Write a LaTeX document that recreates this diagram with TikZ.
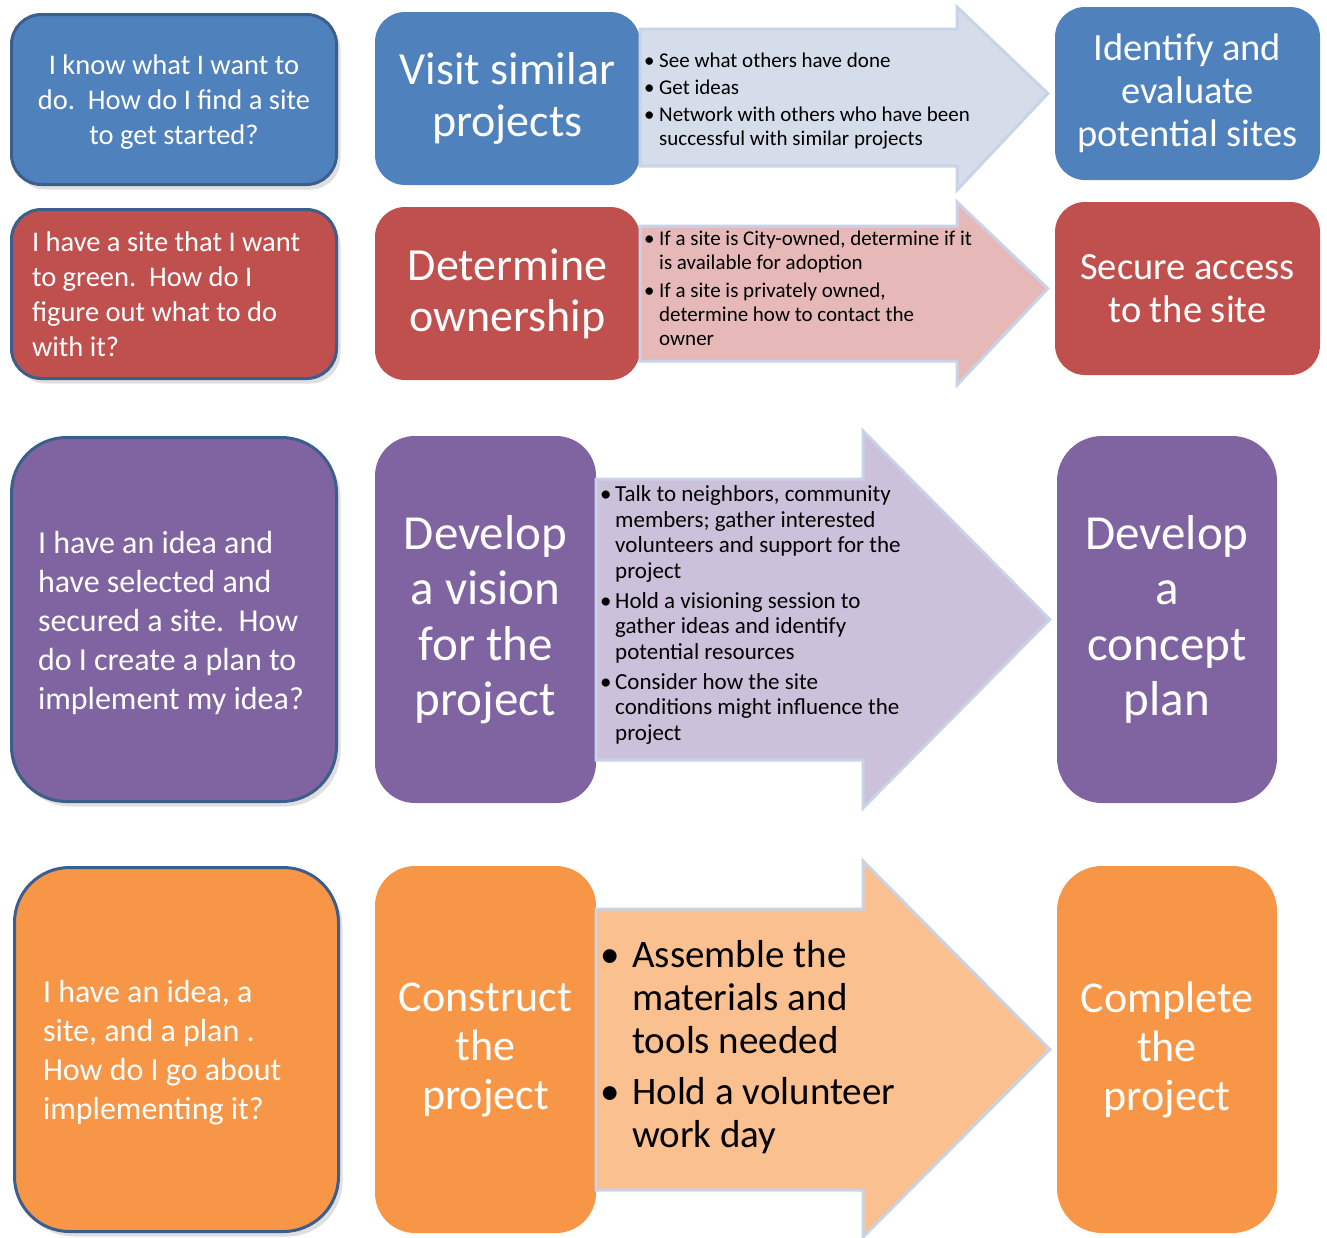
\documentclass[tikz,border=0pt]{standalone}
\usepackage{fontspec}
\setmainfont{Carlito}
\usetikzlibrary{shadows}

\definecolor{accblue}{HTML}{4F81BD}
\definecolor{accred}{HTML}{C0504D}
\definecolor{accpurple}{HTML}{8064A2}
\definecolor{accorange}{HTML}{F79646}
\definecolor{qborder}{HTML}{3B5E8C}
\definecolor{paleblue}{HTML}{D5DCEA}
\definecolor{palered}{HTML}{E6B9B8}
\definecolor{palepurple}{HTML}{CCC1DA}
\definecolor{paleorange}{HTML}{FAC090}
\definecolor{arrowedge}{HTML}{C9D3E7}

% bullet and hanging indent, width given as argument
\newcommand{\bul}[1]{\makebox[#1][l]{\textbullet}}
\newcommand{\ind}[1]{\hspace*{#1}}

\tikzset{
  qbox/.style={draw=qborder, line width=3pt, text=white, align=flush left,
    drop shadow={shadow xshift=4pt, shadow yshift=-5pt, opacity=0.25}},
  stepbox/.style={text=white, align=flush center, inner sep=0pt},
  bigarrow/.style={draw=arrowedge, line width=3pt, line join=miter},
  arrowtext/.style={anchor=west, align=flush left, inner sep=0pt, text=black}
}

\begin{document}
\begin{tikzpicture}[x=1pt, y=-1pt]
  \useasboundingbox (0,0) rectangle (1327,1237);

  % questions
  \node[qbox, fill=accblue, rounded corners=30pt, align=flush center, text width=301pt,
    inner xsep=12pt, minimum height=170pt, text depth=70pt, font=\fontsize{28.5}{35}\selectfont]
    (q1) at (174,99.5) {I know what I want to\\ do.\ \ How do I find a site\\ to get started?};
  \node[qbox, fill=accred, rounded corners=30pt, text width=284pt, inner xsep=20.5pt,
    minimum height=169pt, font=\fontsize{28.5}{35}\selectfont]
    (q2) at (174,294) {I have a site that I want\\ to green.\ \ How do I\\ figure out what to do\\ with it?};
  \node[qbox, fill=accpurple, rounded corners=55pt, text width=272pt, inner xsep=26.5pt,
    minimum height=364pt, text depth=155pt, font=\fontsize{32}{39}\selectfont]
    (q3) at (174,619.5) {I have an idea and\\ have selected and\\ secured a site.\ \ How\\ do I create a plan to\\ implement my idea?};
  \node[qbox, fill=accorange, rounded corners=55pt, text width=267pt, inner xsep=28.5pt,
    minimum height=364pt, text depth=116pt, font=\fontsize{32}{39}\selectfont]
    (q4) at (176.5,1049.5) {I have an idea, a\\ site, and a plan .\\ How do I go about\\ implementing it?};

  % steps
  \node[stepbox, fill=accblue, rounded corners=30pt, minimum width=265pt, minimum height=173pt,
    font=\fontsize{46}{52}\selectfont] (s1) at (507.5,98.5) {Visit similar\\ projects};
  \node[stepbox, fill=accred, rounded corners=30pt, minimum width=265pt, minimum height=173pt,
    font=\fontsize{46}{51}\selectfont] (s2) at (507.5,293.5) {Determine\\ ownership};
  \node[stepbox, fill=accpurple, rounded corners=40pt, minimum width=221pt, minimum height=367pt,
    font=\fontsize{49}{55.5}\selectfont] (s3) at (485.5,619.5) {Develop\\ a vision\\ for the\\ project};
  \node[stepbox, fill=accorange, rounded corners=40pt, minimum width=221pt, minimum height=367pt,
    font=\fontsize{44}{49}\selectfont] (s4) at (485.5,1049.5) {Construct\\ the\\ project};

  % results
  \node[stepbox, fill=accblue, rounded corners=30pt, minimum width=265pt, minimum height=173pt,
    font=\fontsize{38.5}{43}\selectfont] (r1) at (1187.5,93.5) {Identify and\\ evaluate\\ potential sites};
  \node[stepbox, fill=accred, rounded corners=30pt, minimum width=265pt, minimum height=173pt,
    font=\fontsize{38.5}{43}\selectfont] (r2) at (1187.5,288.5) {Secure access\\ to the site};
  \node[stepbox, fill=accpurple, rounded corners=45pt, minimum width=220pt, minimum height=367pt,
    font=\fontsize{49}{55.5}\selectfont] (r3) at (1167,619.5) {Develop\\ a\\ concept\\ plan};
  \node[stepbox, fill=accorange, rounded corners=45pt, minimum width=220pt, minimum height=367pt,
    font=\fontsize{44}{49}\selectfont] (r4) at (1167,1049.5) {Complete\\ the\\ project};

  % block arrows
  \draw[bigarrow, fill=paleblue] (s1.east |- 0,29) -- (957,29) -- (957,7) -- ([xshift=-7pt]r1.west)
    -- (957,190) -- (957,166) -- (s1.east |- 0,166) -- cycle;
  \draw[bigarrow, fill=palered] (s2.east |- 0,226) -- (957,226) -- (957,202) -- ([xshift=-7pt]r2.west)
    -- (957,385) -- (957,361) -- (s2.east |- 0,361) -- cycle;
  \draw[bigarrow, fill=palepurple] (s3.east |- 0,479) -- (863,479) -- (863,431) -- ([xshift=-7pt]r3.west)
    -- (863,808) -- (863,760) -- (s3.east |- 0,760) -- cycle;
  \draw[bigarrow, fill=paleorange] (s4.east |- 0,909) -- (863,909) -- (863,861) -- ([xshift=-7pt]r4.west)
    -- (863,1237) -- (863,1190) -- (s4.east |- 0,1190) -- cycle;

  \node[arrowtext, font=\fontsize{21}{24}\selectfont] (t1) at (644,101)
    {\bul{15pt}See what others have done\\[3pt] \bul{15pt}Get ideas\\[3pt]
     \bul{15pt}Network with others who have been\\ \ind{15pt}successful with similar projects};
  \node[arrowtext, font=\fontsize{21}{24}\selectfont] (t2) at (644,288)
    {\bul{15pt}If a site is City-owned, determine if it\\ \ind{15pt}is available for adoption\\[4pt]
     \bul{15pt}If a site is privately owned,\\ \ind{15pt}determine how to contact the\\ \ind{15pt}owner};
  \node[arrowtext, font=\fontsize{23}{25.5}\selectfont] (t3) at (600,615)
    {\bul{15pt}Talk to neighbors, community\\ \ind{15pt}members; gather interested\\
     \ind{15pt}volunteers and support for the\\ \ind{15pt}project\\[4.5pt]
     \bul{15pt}Hold a visioning session to\\ \ind{15pt}gather ideas and identify\\ \ind{15pt}potential resources\\[4.5pt]
     \bul{15pt}Consider how the site\\ \ind{15pt}conditions might influence the\\ \ind{15pt}project};
  \node[arrowtext, font=\fontsize{39}{43}\selectfont] (t4) at (600.5,1047)
    {\bul{31.5pt}Assemble the\\ \ind{31.5pt}materials and\\ \ind{31.5pt}tools needed\\[8pt]
     \bul{31.5pt}Hold a volunteer\\ \ind{31.5pt}work day};
\end{tikzpicture}
\end{document}
